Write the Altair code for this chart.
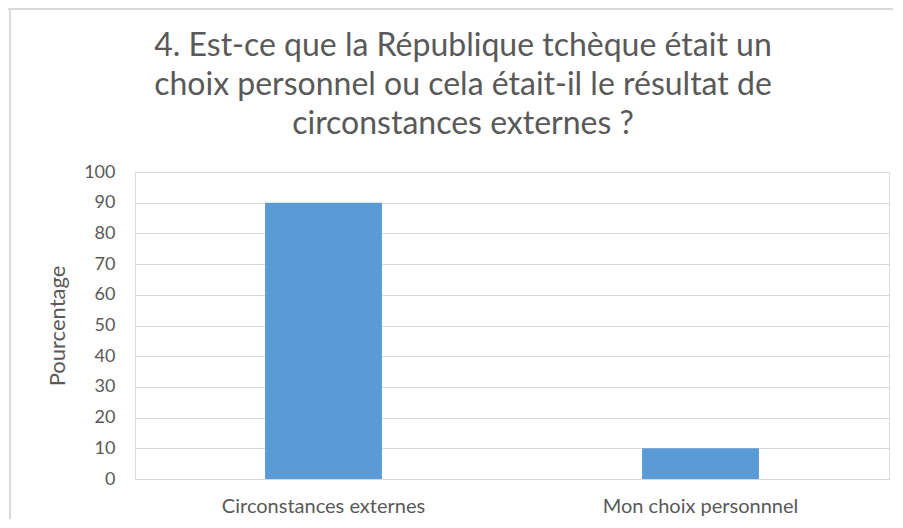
import altair as alt
import pandas as pd

categories = ["Circonstances externes", "Mon choix personnnel"]
values = [90, 10]
title_lines = [
    "4. Est-ce que la République tchèque était un",
    "choix personnel ou cela était-il le résultat de",
    "circonstances externes ?",
]
y_ticks = [0, 10, 20, 30, 40, 50, 60, 70, 80, 90, 100]

df = pd.DataFrame({"cat": categories, "val": values})

FONT = "Lato"
GRAY = "#595959"
GRID = "#d9d9d9"

bars = alt.Chart(df).mark_bar(color="#5b9bd5").encode(
    x=alt.X(
        "cat:N",
        sort=categories,
        scale=alt.Scale(paddingInner=0.69, paddingOuter=0.345),
        axis=alt.Axis(
            title=None, labelAngle=0, labelFontSize=20, labelColor=GRAY,
            labelFont=FONT, ticks=False, domainColor=GRID, domainWidth=1,
            labelPadding=17, labelLimit=0,
        ),
    ),
    y=alt.Y(
        "val:Q",
        scale=alt.Scale(domain=[0, 100], nice=False),
        axis=alt.Axis(
            values=y_ticks, title="Pourcentage", titleFontSize=22,
            titleFont=FONT, titleColor=GRAY, titleFontWeight="normal",
            labelFontSize=18, labelColor=GRAY, labelFont=FONT, ticks=False,
            domain=False, gridColor=GRID, gridWidth=1, labelPadding=20,
            titlePadding=14,
        ),
    ),
)

border_top = alt.Chart(df).mark_rule(color=GRID, strokeWidth=2).encode(
    x=alt.value(-127), x2=alt.value(770), y=alt.value(-163)
)
border_left = alt.Chart(df).mark_rule(color=GRID, strokeWidth=2).encode(
    x=alt.value(-125), y=alt.value(-163), y2=alt.value(360)
)

chart = (
    alt.layer(border_top, border_left, bars)
    .properties(
        width=754,
        height=307,
        autosize=alt.AutoSizeParams(type="none"),
        padding={"left": 127, "top": 164, "right": 4, "bottom": 40},
        title=alt.Title(
            text=title_lines, fontSize=32, font=FONT, color=GRAY,
            fontWeight="normal", anchor="middle", dx=-49, offset=0,
            dy=133, lineHeight=39,
        ),
    )
    .configure_view(stroke=None)
    .configure(background="white")
)

chart.save("out.html", embed_options={"renderer": "svg", "actions": False})
